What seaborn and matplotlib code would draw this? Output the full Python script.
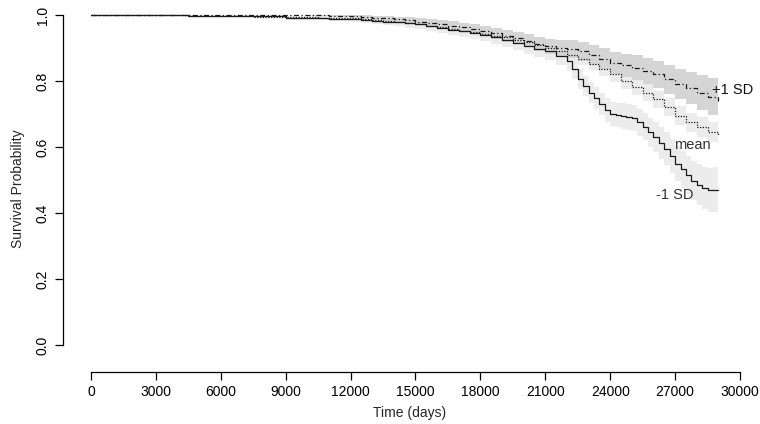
import numpy as np
import pandas as pd
import matplotlib
matplotlib.use("Agg")
import matplotlib.pyplot as plt
import seaborn as sns

# Kaplan-Meier style curves (step functions)
t_minus = [0, 4500, 6000, 7500, 9000, 10000, 11000,
           12000, 12500, 13000, 13500, 14000, 14500, 15000, 15500, 16000, 16500,
           17000, 17500, 18000, 18500, 19000, 19500, 20000, 20500, 21000, 21500,
           22000, 22250, 22500, 22750, 23000, 23250, 23500, 23750, 24000, 24250,
           24500, 24750, 25000, 25250, 25500, 25750, 26000, 26250, 26500, 26750,
           27000, 27250, 27500, 27750, 28000, 28250, 28500, 28750, 29000]
surv_minus = [1.0, 0.998, 0.997, 0.996, 0.99, 0.99, 0.988,
              0.987, 0.985, 0.983, 0.98, 0.978, 0.975, 0.972, 0.967, 0.962, 0.956,
              0.951, 0.946, 0.94, 0.932, 0.925, 0.916, 0.906, 0.898, 0.89, 0.877,
              0.86, 0.835, 0.805, 0.785, 0.765, 0.748, 0.73, 0.712, 0.70, 0.697,
              0.694, 0.69, 0.687, 0.675, 0.662, 0.645, 0.63, 0.612, 0.595, 0.572,
              0.55, 0.532, 0.515, 0.498, 0.485, 0.475, 0.47, 0.47, 0.47]
hw_minus = [0.0, 0.002, 0.003, 0.004, 0.005, 0.006, 0.007,
            0.008, 0.009, 0.01, 0.011, 0.012, 0.013, 0.014, 0.015, 0.016, 0.017,
            0.018, 0.019, 0.02, 0.021, 0.022, 0.023, 0.024, 0.025, 0.026, 0.027,
            0.028, 0.029, 0.03, 0.031, 0.032, 0.033, 0.034, 0.035, 0.036, 0.037,
            0.038, 0.039, 0.04, 0.041, 0.042, 0.044, 0.046, 0.048, 0.05, 0.052,
            0.054, 0.056, 0.058, 0.06, 0.062, 0.064, 0.066, 0.068, 0.07]

t_mean = [0, 4500, 6000, 7500, 9000, 10500,
          12000, 12500, 13000, 13500, 14000, 14500, 15000, 15500, 16000, 16500,
          17000, 17500, 18000, 18500, 19000, 19500, 20000, 20500, 21000, 21500,
          22000, 22500, 23000, 23500, 24000, 24500, 25000, 25500, 26000, 26500,
          27000, 27500, 28000, 28500, 29000]
surv_mean = [1.0, 0.997, 0.996, 0.995, 0.993, 0.992,
             0.99, 0.988, 0.986, 0.983, 0.98, 0.976, 0.972, 0.968, 0.963, 0.958,
             0.953, 0.948, 0.943, 0.937, 0.932, 0.925, 0.918, 0.91, 0.90, 0.89,
             0.878, 0.866, 0.852, 0.837, 0.82, 0.80, 0.782, 0.765, 0.745, 0.72,
             0.695, 0.675, 0.66, 0.645, 0.632]
hw_mean = [0.0, 0.001, 0.002, 0.002, 0.003, 0.003,
           0.004, 0.005, 0.005, 0.006, 0.006, 0.007, 0.007, 0.008, 0.008, 0.009,
           0.009, 0.01, 0.01, 0.011, 0.012, 0.013, 0.014, 0.015, 0.016, 0.017,
           0.018, 0.019, 0.02, 0.021, 0.022, 0.023, 0.024, 0.025, 0.026, 0.027,
           0.028, 0.029, 0.03, 0.031, 0.032]

t_plus = [0, 9000, 10000, 11000,
          12000, 12500, 13000, 13500, 14000, 14500, 15000, 15500, 16000, 16500,
          17000, 17500, 18000, 18500, 19000, 19500, 20000, 20500, 21000, 21500,
          22000, 22500, 23000, 23500, 24000, 24500, 25000, 25500, 26000, 26500,
          27000, 27500, 28000, 28500, 29000]
surv_plus = [1.0, 1.0, 0.999, 0.998,
             0.996, 0.994, 0.992, 0.99, 0.987, 0.984, 0.98, 0.976, 0.972, 0.968,
             0.963, 0.957, 0.951, 0.944, 0.937, 0.93, 0.922, 0.912, 0.905, 0.90,
             0.897, 0.89, 0.88, 0.868, 0.855, 0.847, 0.84, 0.83, 0.82, 0.805,
             0.79, 0.778, 0.765, 0.752, 0.74]
hw_plus = [0.0, 0.001, 0.002, 0.003,
           0.004, 0.005, 0.006, 0.007, 0.008, 0.009, 0.01, 0.011, 0.012, 0.013,
           0.014, 0.015, 0.016, 0.017, 0.018, 0.019, 0.02, 0.021, 0.022, 0.024,
           0.026, 0.028, 0.03, 0.032, 0.034, 0.036, 0.038, 0.04, 0.042, 0.044,
           0.046, 0.049, 0.052, 0.056, 0.06]

x_ticks = [0, 3000, 6000, 9000, 12000, 15000, 18000, 21000, 24000, 27000, 30000]
y_ticks = [0.0, 0.2, 0.4, 0.6, 0.8, 1.0]

sns.set_style("white")
plt.rcParams["font.family"] = ["Liberation Sans", "DejaVu Sans"]

fig = plt.figure(figsize=(7.6, 4.24), dpi=100)
ax = fig.add_axes([63 / 760, 52 / 424, 694 / 760, 367 / 424])

# bandes de confiance
for t, s, hw, col in [(t_minus, surv_minus, hw_minus, "#ececec"),
                      (t_mean, surv_mean, hw_mean, "#ececec"),
                      (t_plus, surv_plus, hw_plus, "#d5d5d5")]:
    s = np.array(s)
    hw = np.array(hw)
    ax.fill_between(t, s - hw, s + hw, step="post", color=col, lw=0)

curves = pd.concat([
    pd.DataFrame({"time": t_minus, "surv": surv_minus, "grp": "-1 SD"}),
    pd.DataFrame({"time": t_mean, "surv": surv_mean, "grp": "mean"}),
    pd.DataFrame({"time": t_plus, "surv": surv_plus, "grp": "+1 SD"}),
])
styles = {"-1 SD": "-", "mean": (0, (1, 1.2)), "+1 SD": (0, (4, 2, 1, 2))}
for grp, ls in styles.items():
    d = curves[curves["grp"] == grp]
    sns.lineplot(data=d, x="time", y="surv", ax=ax, color="#1a1a1a", lw=0.9,
                 drawstyle="steps-post", linestyle=ls, estimator=None, legend=False)

ax.text(28700, 0.773, "+1 SD", fontsize=10.5, color="#111111", ha="left", va="center")
ax.text(27780, 0.606, "mean", fontsize=10.5, color="#333333", ha="center", va="center")
ax.text(27000, 0.455, "-1 SD", fontsize=10.5, color="#333333", ha="center", va="center")

ax.set_xlim(-1294, 30786)
ax.set_ylim(-0.0818, 1.0303)
ax.set_xticks(x_ticks)
ax.set_xticklabels([str(v) for v in x_ticks], fontsize=10)
ax.set_yticks(y_ticks)
ax.set_yticklabels([f"{v:.1f}" for v in y_ticks], fontsize=10, rotation=90, va="center")
ax.set_xlabel("Time (days)", fontsize=10, labelpad=5)
ax.set_ylabel("Survival Probability", fontsize=10, labelpad=8)

for side in ["top", "right"]:
    ax.spines[side].set_visible(False)
for side in ["left", "bottom"]:
    ax.spines[side].set_color("black")
    ax.spines[side].set_linewidth(0.9)
ax.spines["left"].set_bounds(0, 1)
ax.spines["bottom"].set_bounds(0, 30000)
ax.tick_params(axis="both", direction="out", length=6, width=0.9, color="black",
               labelcolor="black", bottom=True, left=True)
ax.grid(False)

fig.savefig("out.png", dpi=100, facecolor="white")
